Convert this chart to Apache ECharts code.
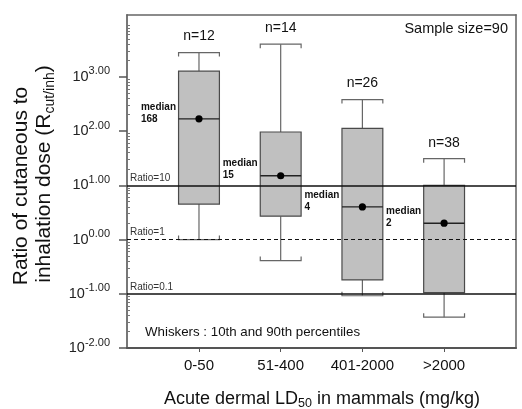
<!DOCTYPE html>
<html><head><meta charset="utf-8">
<script src="https://cdn.jsdelivr.net/npm/echarts@6/dist/echarts.min.js"></script>
<style>html,body{margin:0;padding:0;background:#fff}#c{width:522px;height:409px}</style>
</head><body><div id="c"></div>
<script>
// ---- data ----
const categories = ['0-50', '51-400', '401-2000', '>2000'];
const sampleSizes = [12, 14, 26, 38];
const whiskerLow = [1.0, 0.41, 0.092, 0.037];   // 10th percentile
const q1 = [4.5, 2.7, 0.18, 0.105];
const medians = [168, 15, 4, 2];
const q3 = [1270, 96, 112, 10];
const whiskerHigh = [2800, 4000, 380, 31];        // 90th percentile
const yTickExponents = [-2, -1, 0, 1, 2, 3];
const refRatios = [10, 1, 0.1];
const refLabels = ['Ratio=10', 'Ratio=1', 'Ratio=0.1'];
const totalSample = 90;
const Y_MAX_EXP = 4.14;

const L = Math.log10;
const FONT = '"Liberation Sans", Arial, sans-serif';
const boxData = categories.map((c, i) => [i + 1, L(whiskerLow[i]), L(q1[i]), L(medians[i]), L(q3[i]), L(whiskerHigh[i]), sampleSizes[i], medians[i]]);
const minorTicks = [];
for (let d = -2; d <= 4; d++) for (let k = 2; k <= 9; k++) { const v = d + L(k); if (v < Y_MAX_EXP) minorTicks.push(v); }
const catTicks = categories.map((c, i) => i + 1);

function renderItem(params, api) {
  const xv = api.value(0);
  const cx = api.coord([xv, 0])[0];
  const yLo = api.coord([xv, api.value(1)])[1];
  const yQ1 = api.coord([xv, api.value(2)])[1];
  const yMed = api.coord([xv, api.value(3)])[1];
  const yQ3 = api.coord([xv, api.value(4)])[1];
  const yHi = api.coord([xv, api.value(5)])[1];
  const hw = api.size([0.5, 0])[0] / 2;
  const wStyle = { stroke: '#666', lineWidth: 1.2, fill: null };
  return {
    type: 'group',
    children: [
      { type: 'line', shape: { x1: cx, y1: yQ3, x2: cx, y2: yHi }, style: wStyle },
      { type: 'line', shape: { x1: cx, y1: yQ1, x2: cx, y2: yLo }, style: wStyle },
      { type: 'polyline', shape: { points: [[cx - hw, yHi + 4], [cx - hw, yHi], [cx + hw, yHi], [cx + hw, yHi + 4]] }, style: wStyle },
      { type: 'polyline', shape: { points: [[cx - hw, yLo - 4], [cx - hw, yLo], [cx + hw, yLo], [cx + hw, yLo - 4]] }, style: wStyle },
      { type: 'rect', shape: { x: cx - hw, y: yQ3, width: hw * 2, height: yQ1 - yQ3 }, style: { fill: '#c0c0c0', stroke: '#4a4a4a', lineWidth: 1.2 } },
      { type: 'line', shape: { x1: cx - hw, y1: yMed, x2: cx + hw, y2: yMed }, style: { stroke: '#222', lineWidth: 1.4 } },
      { type: 'circle', shape: { cx: cx, cy: yMed, r: 3.6 }, style: { fill: '#000' } },
      { type: 'text', x: cx, y: yHi - 9, style: { text: 'n=' + api.value(6), font: '14px ' + FONT, fill: '#111', align: 'center', verticalAlign: 'bottom' } },
      { type: 'text', x: cx - 58, y: yMed + 6, style: { text: 'median\n' + api.value(7), font: 'bold 10px ' + FONT, lineHeight: 12, fill: '#111', align: 'left', verticalAlign: 'bottom' } }
    ]
  };
}

const chart = echarts.init(document.getElementById('c'), null, { renderer: 'canvas' });
chart.setOption({
  animation: false,
  backgroundColor: '#fff',
  grid: { left: 127, right: 6, top: 15, bottom: 61, containLabel: false, outerBoundsMode: 'none' },
  xAxis: [
    {
      type: 'value', min: 0.119, max: 4.88, position: 'bottom',
      axisLine: { onZero: false, lineStyle: { color: '#555', width: 2 } },
      axisTick: { customValues: catTicks, length: 4, lineStyle: { color: '#555' } },
      axisLabel: { customValues: catTicks, formatter: v => categories[Math.round(v) - 1] || '', fontSize: 15, fontFamily: FONT, color: '#111', margin: 10 },
      splitLine: { show: false }
    },
    {
      type: 'value', min: 0.119, max: 4.88, position: 'top',
      axisLine: { show: true, onZero: false, lineStyle: { color: '#666', width: 1.5 } },
      axisTick: { show: false }, axisLabel: { show: false }, splitLine: { show: false }
    }
  ],
  yAxis: [
    {
      type: 'value', min: -2, max: Y_MAX_EXP, position: 'left',
      axisLine: { show: true, onZero: false, lineStyle: { color: '#777', width: 2 } },
      axisTick: { customValues: yTickExponents, length: 8, lineStyle: { color: '#555', width: 1.5 } },
      axisLabel: {
        customValues: yTickExponents, margin: 17,
        formatter: v => '{b|10}{sup|' + v.toFixed(2) + '}',
        rich: {
          b: { fontSize: 14.5, fontFamily: FONT, color: '#222', lineHeight: 22 },
          sup: { fontSize: 11, fontFamily: FONT, color: '#222', verticalAlign: 'top' }
        }
      },
      splitLine: { show: false }
    },
    {
      type: 'value', min: -2, max: Y_MAX_EXP, position: 'left',
      axisLine: { show: false, onZero: false },
      axisTick: { show: true, customValues: minorTicks, inside: true, length: 3, lineStyle: { color: '#777' } },
      axisLabel: { show: false }, splitLine: { show: false }
    },
    {
      type: 'value', min: -2, max: Y_MAX_EXP, position: 'right',
      axisLine: { show: true, onZero: false, lineStyle: { color: '#888', width: 2 } },
      axisTick: { show: false }, axisLabel: { show: false }, splitLine: { show: false }
    }
  ],
  series: [{
    type: 'custom',
    renderItem: renderItem,
    data: boxData,
    xAxisIndex: 0, yAxisIndex: 0,
    encode: { x: 0, y: [1, 5] },
    clip: false,
    z: 2,
    markLine: {
      silent: true, symbol: 'none', animation: false, z: 5,
      data: refRatios.map((r, i) => ({
        yAxis: L(r),
        lineStyle: { color: '#111', width: r === 1 ? 1 : 1.6, type: r === 1 ? [4, 3] : 'solid' },
        label: { formatter: refLabels[i] }
      })),
      label: { show: true, position: 'insideStartTop', distance: [3, 2], fontSize: 10, fontFamily: FONT, color: '#333' }
    }
  }],
  graphic: [
    {
      type: 'text', x: 21, y: 186, rotation: Math.PI / 2,
      style: { text: 'Ratio of cutaneous to', font: '21px ' + FONT, fill: '#111', align: 'center', verticalAlign: 'middle' }
    },
    {
      type: 'text', x: 44, y: 174, rotation: Math.PI / 2,
      style: {
        text: '{a|inhalation dose (R}{s|cut/inh}{a|)}',
        align: 'center', verticalAlign: 'middle',
        rich: {
          a: { fontSize: 21, fontFamily: FONT, fill: '#111', lineHeight: 26 },
          s: { fontSize: 14, fontFamily: FONT, fill: '#111', verticalAlign: 'bottom' }
        }
      }
    },
    {
      type: 'text', x: 322, y: 399,
      style: {
        text: '{a|Acute dermal LD}{s|50}{a| in mammals (mg/kg)}',
        align: 'center', verticalAlign: 'middle',
        rich: {
          a: { fontSize: 18, fontFamily: FONT, fill: '#111', lineHeight: 22 },
          s: { fontSize: 12.5, fontFamily: FONT, fill: '#111', verticalAlign: 'bottom' }
        }
      }
    },
    {
      type: 'text', x: 508, y: 29,
      style: { text: 'Sample size=' + totalSample, font: '14.5px ' + FONT, fill: '#111', align: 'right', verticalAlign: 'middle' }
    },
    {
      type: 'text', x: 145, y: 332,
      style: { text: 'Whiskers : 10th and 90th percentiles', font: '13.3px ' + FONT, fill: '#111', align: 'left', verticalAlign: 'middle' }
    }
  ]
});
</script>
</body></html>
